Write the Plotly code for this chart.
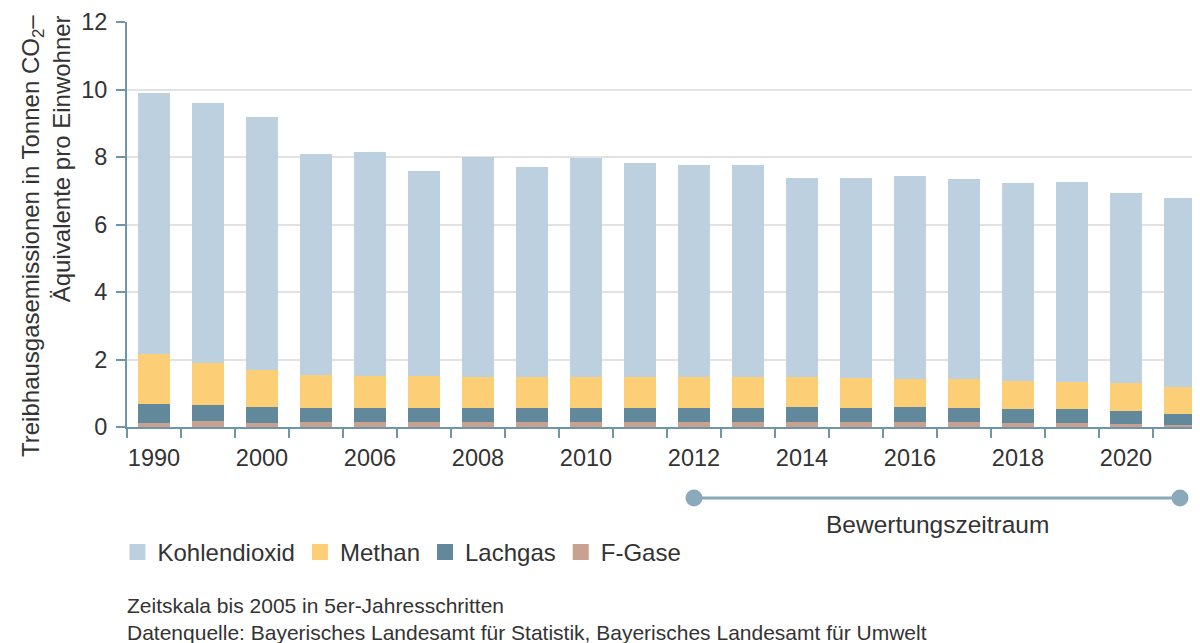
import plotly.graph_objects as go

# ---------------- data ----------------
years = ["1990", "1995", "2000", "2005", "2006", "2007", "2008", "2009", "2010", "2011",
         "2012", "2013", "2014", "2015", "2016", "2017", "2018", "2019", "2020", "2021"]
x_tick_labels = ["1990", "", "2000", "", "2006", "", "2008", "", "2010", "",
                 "2012", "", "2014", "", "2016", "", "2018", "", "2020", ""]
co2 = [7.76, 7.71, 7.50, 6.55, 6.66, 6.09, 6.51, 6.21, 6.47, 6.32,
       6.30, 6.30, 5.91, 5.93, 6.02, 5.95, 5.85, 5.93, 5.64, 5.59]
methan = [1.48, 1.26, 1.11, 0.97, 0.94, 0.93, 0.92, 0.92, 0.93, 0.92,
          0.90, 0.90, 0.88, 0.87, 0.84, 0.84, 0.83, 0.82, 0.82, 0.81]
lachgas = [0.55, 0.45, 0.46, 0.42, 0.42, 0.43, 0.42, 0.42, 0.42, 0.43,
           0.43, 0.43, 0.45, 0.43, 0.45, 0.43, 0.41, 0.40, 0.37, 0.31]
fgase = [0.12, 0.19, 0.13, 0.14, 0.14, 0.14, 0.14, 0.14, 0.14, 0.14,
         0.14, 0.14, 0.14, 0.14, 0.14, 0.14, 0.13, 0.12, 0.10, 0.07]
series_names = ["Kohlendioxid", "Methan", "Lachgas", "F-Gase"]
y_ticks = [0, 2, 4, 6, 8, 10, 12]
period_years = ["2012", "2021"]
period_label = "Bewertungszeitraum"
y_title = "Treibhausgasemissionen in Tonnen CO<sub>2</sub>–<br>Äquivalente pro Einwohner"
footnotes = ["Zeitskala bis 2005 in 5er-Jahresschritten",
             "Datenquelle: Bayerisches Landesamt für Statistik, Bayerisches Landesamt für Umwelt"]

# ---------------- style ----------------
colors = {"Kohlendioxid": "#bdd0e0", "Methan": "#fcce76", "Lachgas": "#62899b", "F-Gase": "#c9a18f"}
axis_color = "#6e95a9"
period_color = "#8aaabb"
text_color = "#333333"
font_family = "Liberation Sans, Arial, sans-serif"

# the page body has an 8px default margin; figure is sized to fit the window
OFF = 8
WIN_W, WIN_H = 1200, 643
W, H = WIN_W - OFF, WIN_H - OFF


def fx(px):  # window px -> figure px
    return px - OFF


M_L, M_R, M_T = fx(127), 0, fx(22)
PLOT_BOTTOM = fx(515)         # bottom of paper area
PLOT_H = PLOT_BOTTOM - M_T
PLOT_W = W - M_L - M_R


def paper_y(px):
    return (PLOT_BOTTOM - fx(px)) / PLOT_H


def paper_x(px):
    return (fx(px) - M_L) / PLOT_W


fig = go.Figure()

stack = [("F-Gase", fgase), ("Lachgas", lachgas), ("Methan", methan), ("Kohlendioxid", co2)]
for name, vals in stack:
    fig.add_trace(go.Bar(
        x=years, y=vals, name=name, marker=dict(color=colors[name], line=dict(width=0)),
        showlegend=False, xaxis="x", yaxis="y",
    ))

# legend entries (square symbols)
for name in series_names:
    fig.add_trace(go.Scatter(
        x=[None], y=[None], mode="markers", name=name,
        marker=dict(symbol="square", size=18, color=colors[name]),
        showlegend=True, xaxis="x", yaxis="y",
    ))

# assessment period marker
fig.add_trace(go.Scatter(
    x=period_years, y=[0, 0], mode="lines+markers", xaxis="x", yaxis="y2",
    line=dict(color=period_color, width=3),
    marker=dict(size=17, color=period_color),
    cliponaxis=False, showlegend=False, hoverinfo="skip",
))

mid_idx = (years.index(period_years[0]) + years.index(period_years[1])) / 2

annotations = [
    dict(text=period_label, xref="x", yref="paper", x=mid_idx, y=paper_y(524),
         xanchor="center", yanchor="middle", showarrow=False,
         font=dict(size=24.5, color=text_color)),
    dict(text=y_title, xref="paper", yref="paper", x=paper_x(46), y=paper_y(13),
         xanchor="center", yanchor="top", textangle=-90, align="right", showarrow=False,
         font=dict(size=24, color=text_color)),
    dict(text=footnotes[0], xref="paper", yref="paper", x=paper_x(125), y=paper_y(605.5),
         xanchor="left", yanchor="middle", showarrow=False,
         font=dict(size=21, color=text_color)),
    dict(text=footnotes[1], xref="paper", yref="paper", x=paper_x(125), y=paper_y(632),
         xanchor="left", yanchor="middle", showarrow=False,
         font=dict(size=21, color=text_color)),
]

fig.update_layout(
    width=W, height=H,
    margin=dict(l=M_L, r=M_R, t=M_T, b=H - PLOT_BOTTOM, autoexpand=False),
    paper_bgcolor="white", plot_bgcolor="white",
    font=dict(family=font_family, color=text_color),
    barmode="stack", bargap=0.4,
    showlegend=True,
    legend=dict(orientation="h", xref="container", yref="container",
                x=fx(117.5) / W, y=1 - fx(552.5) / H, xanchor="left", yanchor="middle",
                traceorder="normal",
                font=dict(size=24, color=text_color), bgcolor="rgba(0,0,0,0)",
                itemclick=False, itemdoubleclick=False),
    xaxis=dict(type="category", categoryorder="array", categoryarray=years,
               range=[-0.5, -0.5 + PLOT_W / 54.0],
               tickmode="array", tickvals=years, ticktext=x_tick_labels,
               tickson="boundaries", ticks="outside", ticklen=9, tickwidth=2,
               tickangle=0, automargin=False, ticklabelstandoff=9,
               tickcolor=axis_color, showline=True, linecolor=axis_color, linewidth=2,
               showgrid=False, zeroline=False, anchor="y",
               tickfont=dict(size=23.5, color=text_color)),
    yaxis=dict(domain=[paper_y(427), 1], range=[0, 12], tickvals=y_ticks,
               ticks="outside", ticklen=9, tickwidth=2, tickcolor=axis_color,
               showline=True, linecolor=axis_color, linewidth=2,
               showgrid=True, gridcolor="#e2e2e2", gridwidth=2, zeroline=False,
               ticklabelstandoff=4, automargin=False,
               tickfont=dict(size=23.5, color=text_color), anchor="x"),
    yaxis2=dict(domain=[0, 2 * (515 - 498) / PLOT_H], range=[-1, 1],
                visible=False, anchor="x", fixedrange=True, automargin=False),
    annotations=annotations,
)

fig.write_html("out.html")
